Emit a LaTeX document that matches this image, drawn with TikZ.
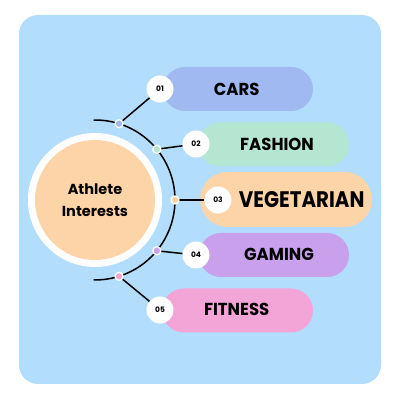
\documentclass[tikz,border=0pt]{standalone}
\usepackage{fontspec}
\setmainfont{Poppins}
\usetikzlibrary{shapes.misc}
\definecolor{bgblue}{HTML}{B3DDFD}
\definecolor{cblue}{HTML}{A0B9F1}
\definecolor{cmint}{HTML}{B5E6D2}
\definecolor{cpeach}{HTML}{FDD4A8}
\definecolor{cpurple}{HTML}{C9A0EC}
\definecolor{cpink}{HTML}{F4A5D8}
\begin{document}
\begin{tikzpicture}[x=1pt,y=1pt,
  pill/.style={rounded rectangle, minimum height=44pt, inner sep=0pt},
  numc/.style={circle, fill=white, minimum size=27pt, inner sep=0pt, font=\fontsize{7.5}{8}\selectfont\bfseries},
  dotc/.style={circle, draw=white, line width=1.3pt, minimum size=8pt, inner sep=0pt},
  lbl/.style={font=\fontsize{16.5}{18}\selectfont\bfseries, yscale=1.05},
  conn/.style={line width=1.5pt, black}]
\useasboundingbox[fill=white] (0,0) rectangle (400,400);
\fill[bgblue, rounded corners=19pt] (19,16) rectangle (381,385);
\coordinate (C) at (95,200);
% pills
\node[pill, fill=cblue, minimum width=150pt] (p1) at (238,311) {};
\node[pill, fill=cmint, minimum width=151pt] (p2) at (273.5,255.5) {};
\node[pill, fill=cpeach, minimum width=172pt, minimum height=55pt] (p3) at (286,200.5) {};
\node[pill, fill=cpurple, minimum width=150pt] (p4) at (274,145) {};
\node[pill, fill=cpink, minimum width=151pt] (p5) at (237.5,89.5) {};
\node[lbl] (t1) at (236.7,311) {CARS};
\node[lbl] (t2) at (277,256) {FASHION};
\node[font=\fontsize{22.5}{24}\selectfont\bfseries, xscale=0.88] (t3) at (301.7,200.5) {VEGETARIAN};
\node[lbl] (t4) at (279,145.5) {GAMING};
\node[lbl] (t5) at (236.7,90.5) {FITNESS};
% center circle
\node[circle, fill=white, minimum size=134pt, inner sep=0pt] (ring) at (C) {};
\node[circle, fill=cpeach, minimum size=120pt, inner sep=0pt, align=center,
  font=\fontsize{14.5}{22}\selectfont\bfseries] (hub) at (C) {Athlete\\Interests};
% arc
\draw[conn] (C) ++(91:80) arc[start angle=91, end angle=-91, radius=80];
% dots
\path (C) ++(72.5:80) coordinate (d1);
\path (C) ++(39.4:80) coordinate (d2);
\path (C) ++(0:80) coordinate (d3);
\path (C) ++(-39.4:80) coordinate (d4);
\path (C) ++(-72.5:80) coordinate (d5);
% number circles
\node[numc] (n1) at (160,311) {01};
\node[numc] (n2) at (196,256) {02};
\node[numc] (n3) at (218,200) {03};
\node[numc] (n4) at (196,145) {04};
\node[numc] (n5) at (160,90) {05};
\draw[conn] (d1) -- (n1);
\draw[conn] (d2) -- (n2);
\draw[conn] (d3) -- (n3);
\draw[conn] (d4) -- (n4);
\draw[conn] (d5) -- (n5);
\node[dotc, fill=cblue] (o1) at (d1) {};
\node[dotc, fill=cmint] (o2) at (d2) {};
\node[dotc, fill=cpeach] (o3) at (d3) {};
\node[dotc, fill=cpurple] (o4) at (d4) {};
\node[dotc, fill=cpink] (o5) at (d5) {};
\end{tikzpicture}
\end{document}
